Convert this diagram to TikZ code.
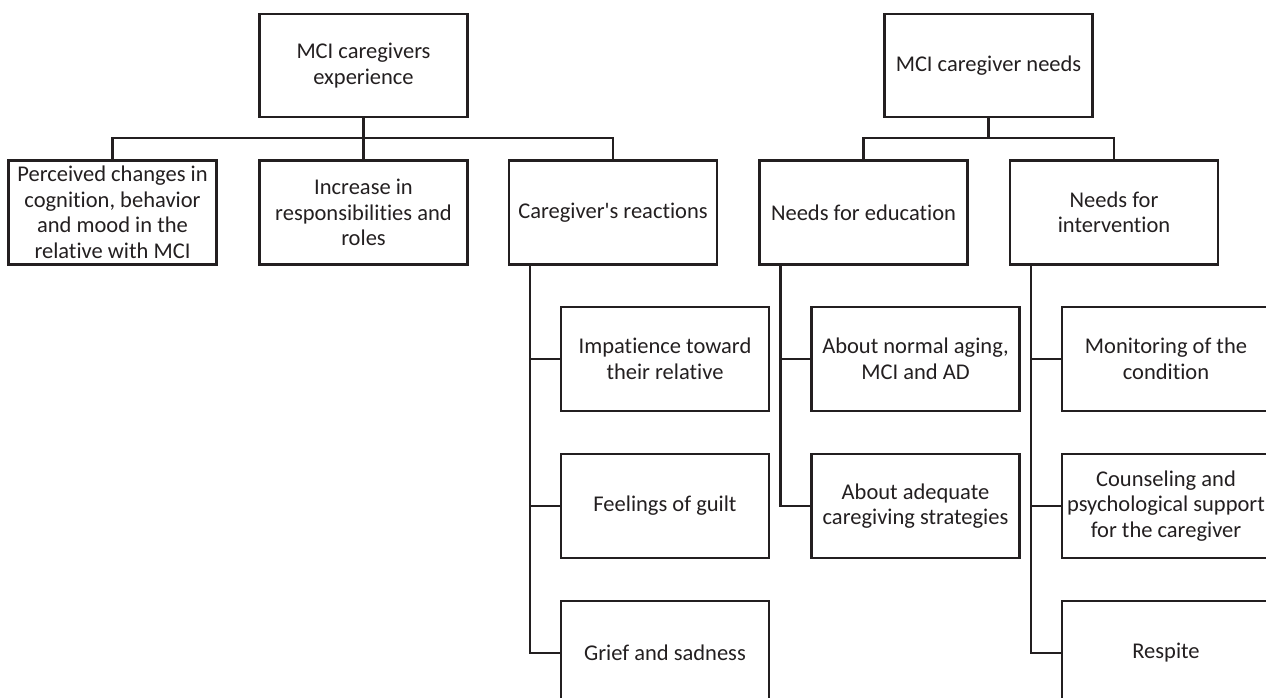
\documentclass[tikz,border=0pt]{standalone}
\usepackage{fontspec}
\setmainfont{Carlito}[Ligatures={TeXOff,NoCommon}]
\definecolor{ink}{HTML}{231F20}
\tikzset{
  box/.style={draw=ink, line width=2.2pt, minimum width=208pt, minimum height=104pt,
    inner sep=0pt, align=center, text=ink, font=\fontsize{22.5}{25.5}\selectfont},
  topbox/.style={box, minimum height=103pt},
  conn/.style={draw=ink, line width=2.2pt, line cap=rect}
}
\begin{document}
\begin{tikzpicture}[x=1pt,y=-1pt]
\useasboundingbox (0,0) rectangle (1266,697);
\clip (0,0) rectangle (1266,697);
% top level
\node[topbox] (mce) at (363.5,65.5) {MCI caregivers\\experience};
\node[topbox] (mcn) at (988.5,65.5) {MCI caregiver needs};
% second level
\node[box] (pa) at (112.5,212.5) {Perceived changes in\\cognition, behavior\\and mood in the\\relative with MCI};
\node[box] (pb) at (363.5,212.5) {Increase in\\responsibilities and\\roles};
\node[box] (pc) at (613,212.5) {Caregiver's reactions};
\node[box] (pd) at (863.5,212.5) {Needs for education};
\node[box] (pe) at (1114,212.5) {Needs for\\intervention};
% third level
\node[box] (c1) at (665,359) {Impatience toward\\their relative};
\node[box] (c2) at (665,506) {Feelings of guilt};
\node[box] (c3) at (665,653) {Grief and sadness};
\node[box] (d1) at (915.5,359) {About normal aging,\\MCI and AD};
\node[box] (d2) at (915.5,506) {About adequate\\caregiving strategies};
\node[box] (e1) at (1166,359) {Monitoring of the\\condition};
\node[box] (e2) at (1166,506) {Counseling and\\psychological support\\for the caregiver};
\node[box] (e3) at (1166,653) {Respite};
% buses
\coordinate (bus) at (0,138);
\draw[conn] (pa.north) -- (pa.north |- bus) -- (pc.north |- bus) -- (pc.north);
\draw[conn] (mce.south) -- (pb.north);
\draw[conn] (pd.north) -- (pd.north |- bus) -- (pe.north |- bus) -- (pe.north);
\draw[conn] (mcn.south) -- (mcn.south |- bus);
% side trunks
\coordinate (cv) at ([xshift=22pt]pc.south west);
\coordinate (dv) at ([xshift=22pt]pd.south west);
\coordinate (ev) at ([xshift=22pt]pe.south west);
\draw[conn] (cv) |- (c3.west);
\draw[conn] (cv |- c1.west) -- (c1.west);
\draw[conn] (cv |- c2.west) -- (c2.west);
\draw[conn] (dv) |- (d2.west);
\draw[conn] (dv |- d1.west) -- (d1.west);
\draw[conn] (ev) |- (e3.west);
\draw[conn] (ev |- e1.west) -- (e1.west);
\draw[conn] (ev |- e2.west) -- (e2.west);
\end{tikzpicture}
\end{document}
